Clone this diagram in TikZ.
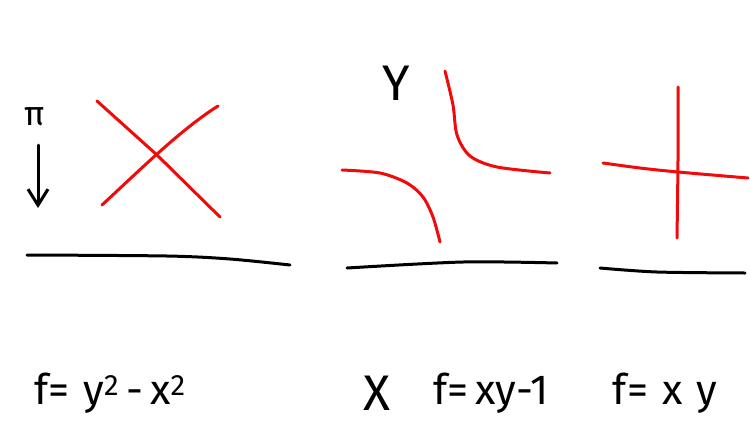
\documentclass[tikz,border=0pt]{standalone}
\usepackage{fontspec}
\setsansfont{Fira Sans}
\usetikzlibrary{arrows.meta}
\begin{document}
\begin{tikzpicture}[x=1pt,y=-1pt,
  ink/.style={line width=3pt,line cap=round,line join=round},
  redink/.style={ink,draw={rgb,255:red,240;green,10;blue,10}},
  blackink/.style={ink,draw=black},
  hand/.style={font=\sffamily\fontsize{42}{48}\selectfont,inner sep=0pt,anchor=center}]
\useasboundingbox (0,0) rectangle (750,445);
\fill[white] (0,0) rectangle (750,445);
% left panel
\node[font=\sffamily\fontsize{34}{40}\selectfont,inner sep=0pt] (pi) at (35,117) {π};
\coordinate (arA) at (38,145);
\coordinate (arB) at (38,208);
\draw[blackink,-{Straight Barb[length=16pt,width=20pt]}] (arA) -- (arB);
\coordinate (xa1) at (97,101); \coordinate (xa2) at (220,217);
\coordinate (xb1) at (218,106); \coordinate (xb2) at (102,205);
\draw[redink] (xa1) -- (157,155) -- (xa2);
\draw[redink] (xb1) .. controls (180,130) and (140,170) .. (xb2);
\draw[blackink] plot[smooth] coordinates {(27,255) (167,256) (230,259) (290,265)};
% middle panel
\node[hand,font=\sffamily\fontsize{50}{54}\selectfont] (Y) at (396,83) {Y};
\draw[redink] plot[smooth] coordinates {(445,71) (453,105) (457,135) (470,156) (497,167) (550,173)};
\draw[redink] plot[smooth] coordinates {(342,170) (380,173) (407,183) (423,197) (433,217) (440,242)};
\draw[blackink] plot[smooth] coordinates {(347,268) (463,262) (557,263)};
% right panel
\draw[redink] plot[smooth] coordinates {(678,87) (678,160) (677,238)};
\draw[redink] plot[smooth] coordinates {(603,163) (640,168) (678,172) (748,178)};
\draw[blackink] plot[smooth] coordinates {(600,268) (657,272) (745,273)};
% labels
\node[hand] (f1) at (110,393) {f=\,\,y\textsuperscript{2}\,-\,x\textsuperscript{2}};
\node[hand,font=\sffamily\fontsize{50}{54}\selectfont] (X) at (377,393) {X};
\node[hand] (f2) at (491,393) {f=\,xy-1};
\node[hand] (f3) at (665,393) {f=\,\,x\,\,y};
\end{tikzpicture}
\end{document}
